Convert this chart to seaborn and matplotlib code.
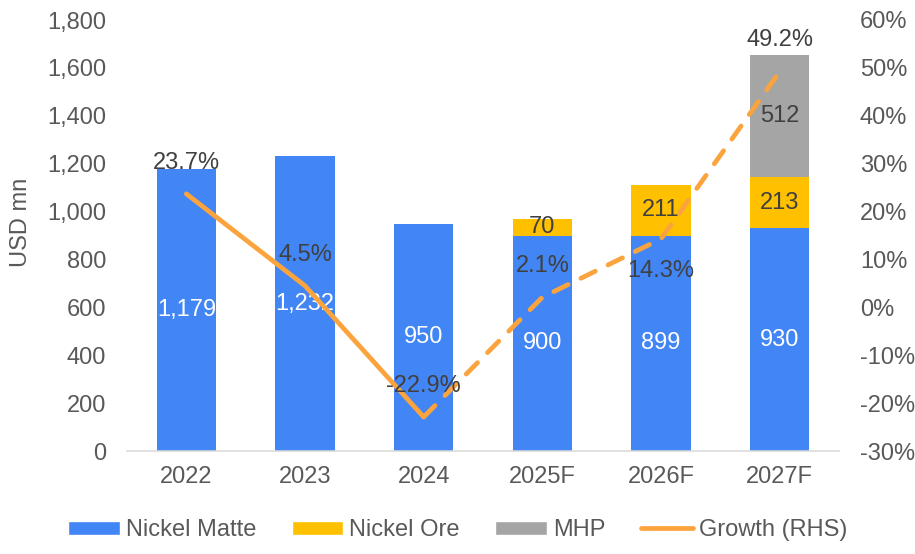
import matplotlib
matplotlib.use("Agg")
import matplotlib.pyplot as plt
import matplotlib.ticker as mticker
from matplotlib.patches import Patch
from matplotlib.lines import Line2D
import seaborn as sns
import numpy as np
import pandas as pd

# ---- data ----
years = ["2022", "2023", "2024", "2025F", "2026F", "2027F"]
nickel_matte = [1179, 1232, 950, 900, 899, 930]
nickel_ore = [0, 0, 0, 70, 211, 213]
mhp = [0, 0, 0, 0, 0, 512]
growth = [23.7, 4.5, -22.9, 2.1, 14.3, 49.2]
n_actual = 3  # 2022-2024 actual (solid), forecasts dashed

BLUE = "#4285F4"
YELLOW = "#FFC000"
GRAY = "#A5A5A5"
ORANGE = "#FBA43D"
TICK_C = "#595959"
LAB_C = "#404040"
FS = 17

sns.set_theme(style="white")
plt.rcParams["font.family"] = ["Liberation Sans", "DejaVu Sans"]

df = pd.DataFrame({"year": years, "matte": nickel_matte, "ore": nickel_ore, "mhp": mhp})
df["ore_top"] = df["matte"] + df["ore"]
df["mhp_top"] = df["ore_top"] + df["mhp"]

fig = plt.figure(figsize=(9.15, 5.54), dpi=100)
ax = fig.add_axes([127 / 915, 1 - 451 / 554, 712 / 915, 431 / 554])

for col, c in [("mhp_top", GRAY), ("ore_top", YELLOW), ("matte", BLUE)]:
    sns.barplot(data=df, x="year", y=col, color=c, width=0.5, saturation=1,
                linewidth=0, ax=ax, zorder=2)

ax.set_ylim(0, 1800)
ax.set_xlim(-0.5, len(years) - 0.5)
ax.yaxis.set_major_locator(mticker.MultipleLocator(200))
ax.yaxis.set_major_formatter(mticker.FuncFormatter(lambda v, p: f"{int(v):,}"))
ax.tick_params(axis="both", length=0, labelsize=FS, labelcolor=TICK_C)
ax.tick_params(axis="y", pad=15)
ax.tick_params(axis="x", pad=11)
ax.set_xlabel("")
ax.set_ylabel("USD mn", fontsize=FS, color=TICK_C)
ax.yaxis.set_label_coords(-0.133, 0.531)
for s in ["top", "right", "left"]:
    ax.spines[s].set_visible(False)
ax.spines["bottom"].set_color("#D9D9D9")
ax.spines["bottom"].set_linewidth(1.1)
ax.grid(False)

# bar segment labels
for i in range(len(years)):
    m, o, h = nickel_matte[i], nickel_ore[i], mhp[i]
    ax.text(i, m / 2, f"{m:,}", ha="center", va="center", color="white", fontsize=FS, zorder=5)
    if o > 0:
        ax.text(i, m + o / 2, f"{o:,}", ha="center", va="center", color=LAB_C, fontsize=FS, zorder=5)
    if h > 0:
        ax.text(i, m + o + h / 2, f"{h:,}", ha="center", va="center", color=LAB_C, fontsize=FS, zorder=5)

# growth line on secondary axis
ax2 = ax.twinx()
xs = np.arange(len(years))
sns.lineplot(x=xs[:n_actual], y=growth[:n_actual], ax=ax2, color=ORANGE, lw=3.4,
             sort=False, solid_capstyle="round", solid_joinstyle="miter")
sns.lineplot(x=xs[n_actual - 1:], y=growth[n_actual - 1:], ax=ax2, color=ORANGE, lw=3.4,
             sort=False, dashes=False)
ax2.lines[-1].set_linestyle((0, (3.4, 3.0)))
ax2.lines[-1].set_dash_capstyle("round")
ax2.set_ylim(-30, 60)
ax2.yaxis.set_major_locator(mticker.MultipleLocator(10))
ax2.yaxis.set_major_formatter(mticker.FuncFormatter(lambda v, p: f"{int(round(v))}%"))
ax2.tick_params(axis="y", length=0, labelsize=FS, labelcolor=TICK_C, pad=15)
for s in ["top", "right", "left", "bottom"]:
    ax2.spines[s].set_visible(False)
ax2.grid(False)
ax2.set_xlim(-0.5, len(years) - 0.5)

below = {"2026F"}
for i, g in enumerate(growth):
    off = -23.5 if years[i] in below else 22.5
    ax2.annotate(f"{g:.1f}%", (i, g), xytext=(0, off), textcoords="offset points",
                 ha="center", va="center", color=LAB_C, fontsize=FS, zorder=6)

handles = [Patch(facecolor=BLUE, label="Nickel Matte"),
           Patch(facecolor=YELLOW, label="Nickel Ore"),
           Patch(facecolor=GRAY, label="MHP"),
           Line2D([0], [0], color=ORANGE, lw=3.4, solid_capstyle="round", label="Growth (RHS)")]
leg = fig.legend(handles=handles, loc="center", bbox_to_anchor=(0.5, 1 - 530 / 554), ncol=4,
                 frameon=False, fontsize=FS, handlelength=2.2, handleheight=0.55,
                 handletextpad=0.25, columnspacing=1.5)
for t in leg.get_texts():
    t.set_color(TICK_C)

fig.savefig("out.png", dpi=100)
